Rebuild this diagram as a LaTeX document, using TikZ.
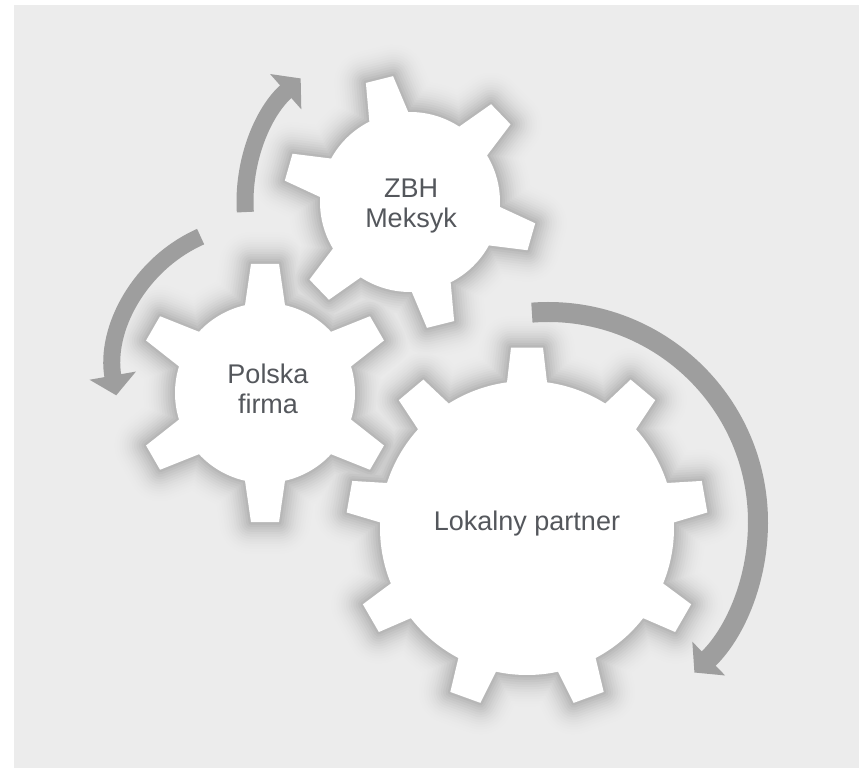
\documentclass[tikz,border=0pt]{standalone}
\usepackage{fontspec}
\setmainfont{Liberation Sans}
\usepackage{tikz}
\usetikzlibrary{arrows.meta}

\definecolor{bgcol}{RGB}{236,236,236}
\definecolor{arrowcol}{RGB}{158,158,158}
\definecolor{textcol}{RGB}{84,87,92}

% style, centre, teeth, first tooth angle, body r, tip r, base half width, tip half width
\newcommand{\cogwheel}[8]{%
  \pgfmathsetmacro\cstep{360/#3}
  \pgfmathsetmacro\cdb{asin(#7/#5)}
  \pgfmathsetmacro\cdt{asin(#8/#6)}
  \path[#1, shift={#2}] ({#4-\cdb}:#5)
    \foreach \k in {1,...,#3} {
      -- ({#4+\cstep*(\k-1)-\cdt}:#6) -- ({#4+\cstep*(\k-1)+\cdt}:#6)
      -- ({#4+\cstep*(\k-1)+\cdb}:#5)
      arc[start angle={#4+\cstep*(\k-1)+\cdb}, end angle={#4+\cstep*\k-\cdb}, radius=#5]
    } -- cycle;
}

\tikzset{
  cog/.style={fill=white},
  cogshade/.style 2 args={fill=black!#2!bgcol, draw=black!#2!bgcol, line width=#1, line join=round, shift={(4,-10)}},
  flow/.style={draw=arrowcol, line width=17pt, -{Triangle[width=46pt,length=20pt]}},
  cogtext/.style={text=textcol, align=center, font=\fontsize{27}{30}\selectfont}
}

\begin{document}
\begin{tikzpicture}[x=1pt, y=1pt]

\useasboundingbox (0,0) rectangle (859,768);
\fill[bgcol] (14,0) rectangle (859,763);

\coordinate (gZBH) at (410,566);
\coordinate (gPL) at (265,375);
\coordinate (gLP) at (527,240);
\coordinate (cPL) at (260,398);
\coordinate (cLP) at (548,246);

% soft shadows, widest ring first
\foreach \i in {1,...,14} {
  \pgfmathsetmacro\sw{2*(15-\i)*2.4}
  \pgfmathsetmacro\sd{24*((\i-0.5)/14)^2}
  \cogwheel{cogshade={\sw}{\sd}}{(gZBH)}{6}{44}{90}{127}{20}{14}
  \cogwheel{cogshade={\sw}{\sd}}{(gPL)}{6}{90}{90}{130}{20}{14}
  \cogwheel{cogshade={\sw}{\sd}}{(gLP)}{9}{90}{147}{181}{20}{16}
}

\cogwheel{cog}{(gZBH)}{6}{44}{90}{127}{20}{14}
\cogwheel{cog}{(gPL)}{6}{90}{90}{130}{20}{14}
\cogwheel{cog}{(gLP)}{9}{90}{147}{181}{20}{16}

\node[cogtext] (zbh) at (411,562) {ZBH\\Meksyk};
\node[cogtext] (polska) at (268,379) {Polska\\firma};
\node[cogtext] (partner) at (527,244) {Lokalny partner};

\draw[flow] ([shift={(183.5:165)}]gZBH) arc[start angle=183.5, end angle=131.5, radius=165];
\draw[flow] ([shift={(114:146)}]cPL) arc[start angle=114, end angle=190, radius=146];
\draw[flow, line width=20pt] ([shift={(94.4:210)}]cLP) arc[start angle=94.4, end angle=-45.8, radius=210];

\end{tikzpicture}
\end{document}
